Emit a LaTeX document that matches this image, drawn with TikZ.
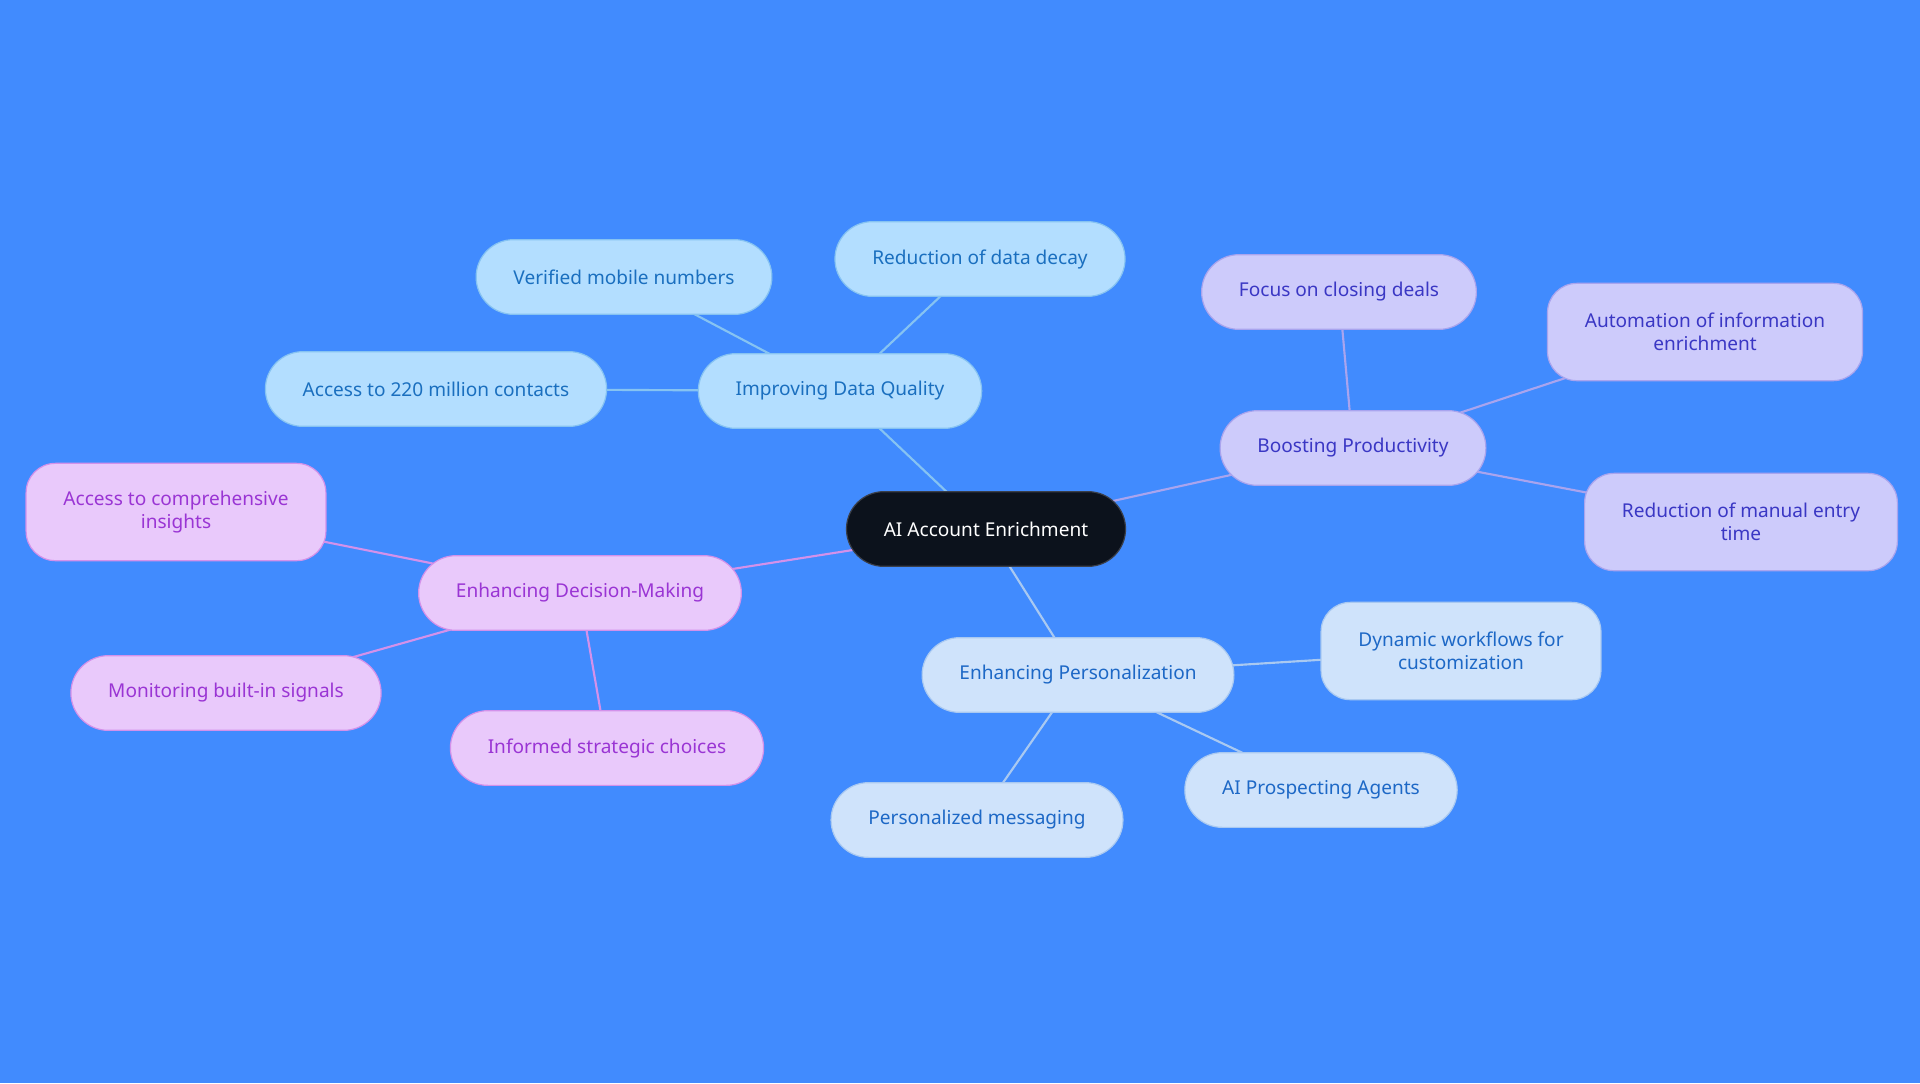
\documentclass[tikz,border=0pt]{standalone}
\usepackage{fontspec}
\setmainfont{Noto Sans}
\usetikzlibrary{backgrounds}
\definecolor{bgblue}{HTML}{418BFE}
\definecolor{rootfill}{HTML}{0C121C}
\definecolor{rootdraw}{HTML}{3A3F4A}
\definecolor{qualfill}{HTML}{B3DEFF}
\definecolor{qualdraw}{HTML}{86C3F2}
\definecolor{qualtext}{HTML}{1A6FBF}
\definecolor{prodfill}{HTML}{CDCBFB}
\definecolor{proddraw}{HTML}{A9A4EE}
\definecolor{prodtext}{HTML}{3A37C4}
\definecolor{decfill}{HTML}{E9C9FB}
\definecolor{decdraw}{HTML}{D391EA}
\definecolor{dectext}{HTML}{9A35D4}
\definecolor{persfill}{HTML}{CFE3FB}
\definecolor{persdraw}{HTML}{A9C9F1}
\definecolor{perstext}{HTML}{1D68C6}
\begin{document}
\begin{tikzpicture}[x=0.75pt,y=-0.75pt,
        every node/.style={draw,rounded corners=28pt,line width=0.9pt,minimum height=56pt,
            inner xsep=28pt,align=center,font=\fontsize{14.3}{17}\selectfont},
        twoline/.style={rounded corners=22pt,minimum height=73pt},
        root/.style={fill=rootfill,draw=rootdraw,text=white},
        quality/.style={fill=qualfill,draw=qualdraw,text=qualtext},
        product/.style={fill=prodfill,draw=proddraw,text=prodtext},
        decision/.style={fill=decfill,draw=decdraw,text=dectext},
        persona/.style={fill=persfill,draw=persdraw,text=perstext},
        link/.style={line width=1.6pt}]
    \node[root] (root) at (986,529) {AI Account Enrichment};
    % data quality
    \node[quality] (quality) at (840,391) {Improving Data Quality};
    \node[quality] (mobile) at (624,277) {Verified mobile numbers};
    \node[quality] (decay) at (980,259) {Reduction of data decay};
    \node[quality] (contacts) at (436,389) {Access to 220 million contacts};
    % productivity
    \node[product] (product) at (1353,448) {Boosting Productivity};
    \node[product] (deals) at (1339,292) {Focus on closing deals};
    \node[product,twoline] (automation) at (1705,332) {Automation of information\\enrichment};
    \node[product,twoline] (manual) at (1741,522) {Reduction of manual entry\\time};
    % decision making
    \node[decision] (decision) at (580,593) {Enhancing Decision-Making};
    \node[decision,twoline] (insights) at (176,512) {Access to comprehensive\\insights};
    \node[decision] (signals) at (226,693) {Monitoring built-in signals};
    \node[decision] (choices) at (607,748) {Informed strategic choices};
    % personalization
    \node[persona] (persona) at (1078,675) {Enhancing Personalization};
    \node[persona,twoline] (workflows) at (1461,651) {Dynamic workflows for\\customization};
    \node[persona] (agents) at (1321,790) {AI Prospecting Agents};
    \node[persona] (messaging) at (977,820) {Personalized messaging};
    \begin{scope}[on background layer]
        \fill[bgblue] (0,0) rectangle (1920,1083);
        \draw[link,qualdraw] (root.center) -- (quality.center);
        \draw[link,qualdraw] (quality.center) -- (mobile.center);
        \draw[link,qualdraw] (quality.center) -- (decay.center);
        \draw[link,qualdraw] (quality.center) -- (contacts.center);
        \draw[link,proddraw] (root.center) -- (product.center);
        \draw[link,proddraw] (product.center) -- (deals.center);
        \draw[link,proddraw] (product.center) -- (automation.center);
        \draw[link,proddraw] (product.center) -- (manual.center);
        \draw[link,decdraw] (root.center) -- (decision.center);
        \draw[link,decdraw] (decision.center) -- (insights.center);
        \draw[link,decdraw] (decision.center) -- (signals.center);
        \draw[link,decdraw] (decision.center) -- (choices.center);
        \draw[link,persdraw] (root.center) -- (persona.center);
        \draw[link,persdraw] (persona.center) -- (workflows.center);
        \draw[link,persdraw] (persona.center) -- (agents.center);
        \draw[link,persdraw] (persona.center) -- (messaging.center);
    \end{scope}
\end{tikzpicture}
\end{document}
